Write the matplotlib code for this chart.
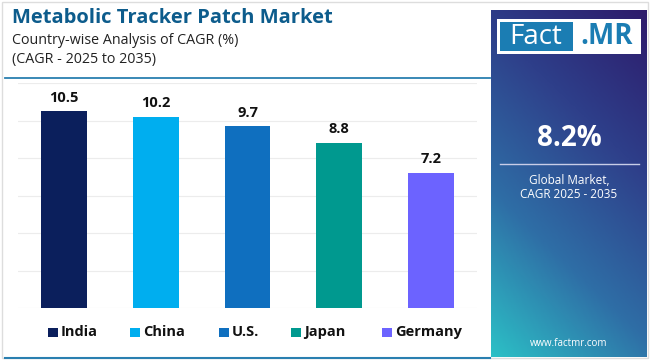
import numpy as np
import matplotlib
matplotlib.use("Agg")
import matplotlib.pyplot as plt
from matplotlib.patches import Rectangle
from matplotlib.colors import LinearSegmentedColormap

# Data
countries = ["India", "China", "U.S.", "Japan", "Germany"]
cagr = [10.5, 10.2, 9.7, 8.8, 7.2]
colors = ["#0b1f5c", "#00aeef", "#0f6fbf", "#00998f", "#6c63ff"]
global_cagr = "8.2%"

plt.rcParams['font.family'] = ['Open Sans', 'DejaVu Sans']

fig = plt.figure(figsize=(6.5, 3.6), dpi=100)
fig.patch.set_facecolor("white")

W, H = 650.0, 360.0

def fx(x):
    return x / W

def fy(y):
    return 1 - y / H

# outer border of the card
fig.patches.append(Rectangle((fx(2), fy(358)), fx(646), 356 / H, transform=fig.transFigure,
                             fill=False, edgecolor="#dddddd", linewidth=1))
# bottom accent line
fig.lines.append(plt.Line2D([fx(5), fx(490)], [fy(358), fy(358)], transform=fig.transFigure,
                            color="#2a7fb0", linewidth=1.5))

# Title block
fig.text(fx(12), fy(18), "Metabolic Tracker Patch Market", fontsize=14.5, fontweight="bold",
         color="#0d5c8c", va="center", ha="left")
fig.text(fx(12), fy(40), "Country-wise Analysis of CAGR (%)", fontsize=10.3, color="#222222",
         va="center", ha="left")
fig.text(fx(12), fy(59), "(CAGR - 2025 to 2035)", fontsize=10.3, color="#222222",
         va="center", ha="left")
fig.lines.append(plt.Line2D([fx(5), fx(490)], [fy(78), fy(78)], transform=fig.transFigure,
                            color="#2a7fb0", linewidth=1.3))

# Main bar chart
ax = fig.add_axes([fx(18), fy(308), fx(477 - 18), (308 - 83) / H])
x = np.arange(len(countries))
bars = ax.bar(x, cagr, width=0.5, color=colors, zorder=3)
for xi, v in zip(x, cagr):
    ax.text(xi, v + 0.35, f"{v}", ha="center", va="bottom", fontsize=10.5,
            fontweight="bold", color="#111111")
ax.set_ylim(0, 12)
ax.set_xlim(-0.5, 4.5)
ax.set_yticks(np.arange(0, 13, 2))
ax.yaxis.grid(True, color="#ececec", linewidth=0.8, zorder=0)
ax.tick_params(left=False, bottom=False, labelleft=False, labelbottom=False)
for s in ax.spines.values():
    s.set_visible(False)

# Legend, placed item by item
legend_x = [48, 130, 219, 291, 382]
for lx, name, c in zip(legend_x, countries, colors):
    fig.patches.append(Rectangle((fx(lx), fy(337)), fx(9.5), 9.5 / H, transform=fig.transFigure,
                                 facecolor=c, edgecolor="none"))
    fig.text(fx(lx + 13), fy(332), name, fontsize=10.5, fontweight="bold", color="#111111",
             ha="left", va="center")

# Right side panel with gradient
pax = fig.add_axes([fx(491), fy(357), fx(647 - 491), (357 - 10) / H])
cmap = LinearSegmentedColormap.from_list("panel", ["#2cc0c6", "#2f6ea6", "#2e3f8a", "#2d1b6b"])
gx, gy = np.meshgrid(np.linspace(0, 1, 100), np.linspace(0, 1, 200))
grad = 0.3 * gx + 0.7 * gy
pax.imshow(grad, cmap=cmap, origin="lower", extent=[0, 1, 0, 1], aspect="auto")
pax.set_xlim(0, 1)
pax.set_ylim(0, 1)
pax.axis("off")

# Fact.MR logo
fig.patches.append(Rectangle((fx(497), fy(54)), fx(144), 35 / H, transform=fig.transFigure,
                             facecolor="white", edgecolor="none"))
fig.patches.append(Rectangle((fx(500), fy(51)), fx(73), 29 / H, transform=fig.transFigure,
                             facecolor="#1b7db3", edgecolor="none"))
fig.text(fx(536), fy(36.5), "Fact", fontsize=20, color="white", ha="center", va="center")
fig.text(fx(607), fy(36.5), ".MR", fontsize=20, color="#1b7db3", fontweight="bold",
         ha="center", va="center")

fig.text(fx(569), fy(138), global_cagr, fontsize=20, fontweight="bold", color="white",
         ha="center", va="center")
fig.lines.append(plt.Line2D([fx(500), fx(639)], [fy(164), fy(164)], transform=fig.transFigure,
                            color="#c8cde8", linewidth=1))
fig.text(fx(569), fy(180), "Global Market,", fontsize=8.5, color="white", ha="center", va="center")
fig.text(fx(569), fy(194), "CAGR 2025 - 2035", fontsize=8.5, color="white", ha="center", va="center")
fig.text(fx(569), fy(343), "www.factmr.com", fontsize=7, color="white", ha="center", va="center")

fig.savefig("out.png", dpi=100, facecolor="white")
